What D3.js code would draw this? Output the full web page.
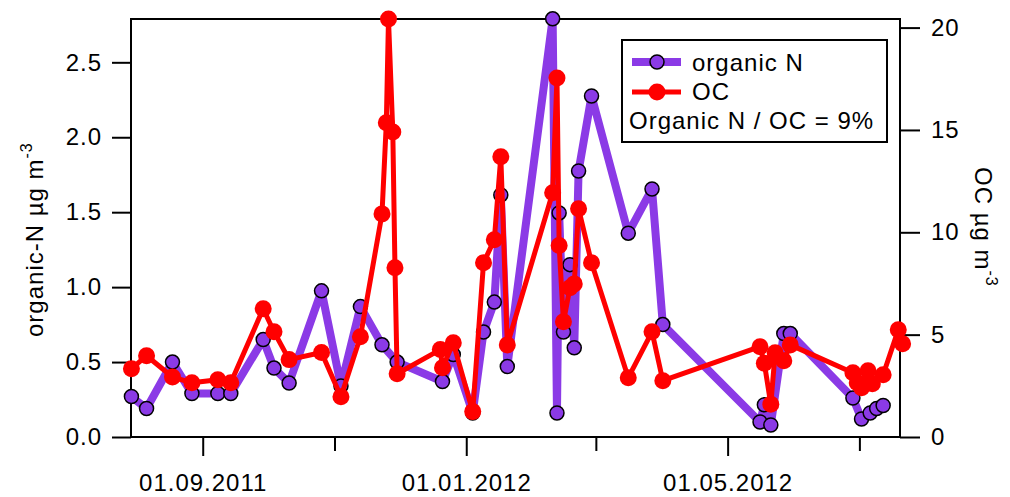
<!DOCTYPE html>
<html>
<head>
<meta charset="utf-8">
<script src="https://cdn.jsdelivr.net/npm/d3@7"></script>
<style>
  body { margin: 0; background: #fff; }
  text { font-family: "Liberation Sans", Arial, sans-serif; }
</style>
</head>
<body>
<div id="chart"></div>
<script>
// sample dates and values
const nDates = ["2011-07-30","2011-08-06","2011-08-18","2011-08-27","2011-09-08","2011-09-14",
  "2011-09-29","2011-10-04","2011-10-11","2011-10-26","2011-11-04","2011-11-13",
  "2011-11-23","2011-11-30","2011-12-21","2011-12-26","2012-01-04","2012-01-09",
  "2012-01-14","2012-01-17","2012-01-20","2012-02-10","2012-02-12","2012-02-13",
  "2012-02-15","2012-02-18","2012-02-20","2012-02-22","2012-02-28","2012-03-16",
  "2012-03-27","2012-04-01","2012-05-16","2012-05-18","2012-05-21","2012-05-27",
  "2012-05-30","2012-06-28","2012-07-02","2012-07-06","2012-07-09","2012-07-12"];
const nValues = [0.27,0.19,0.50,0.29,0.29,0.29,
  0.65,0.46,0.36,0.975,0.34,0.87,
  0.615,0.50,0.37,0.55,0.16,0.70,
  0.90,1.615,0.47,2.79,0.16,1.495,
  0.70,1.15,0.595,1.775,2.275,1.36,
  1.655,0.75,0.10,0.215,0.08,0.69,
  0.69,0.26,0.12,0.16,0.19,0.21];

const ocDates = ["2011-07-30","2011-08-06","2011-08-18","2011-08-27","2011-09-08","2011-09-14",
  "2011-09-29","2011-10-04","2011-10-11","2011-10-26","2011-11-04","2011-11-13",
  "2011-11-23","2011-11-25","2011-11-26","2011-11-28","2011-11-29","2011-11-30",
  "2011-12-20","2011-12-21","2011-12-26","2012-01-04","2012-01-09","2012-01-14",
  "2012-01-17","2012-01-20","2012-02-10","2012-02-12","2012-02-13","2012-02-15",
  "2012-02-18","2012-02-20","2012-02-22","2012-02-28","2012-03-16","2012-03-27",
  "2012-04-01","2012-05-16","2012-05-18","2012-05-21","2012-05-23","2012-05-27",
  "2012-05-30","2012-06-28","2012-06-30","2012-07-02","2012-07-05","2012-07-07",
  "2012-07-12","2012-07-19","2012-07-21"];
const ocValues = [3.33,3.97,2.93,2.65,2.80,2.65,
  6.26,5.14,3.78,4.13,1.97,4.90,
  10.9,15.35,20.42,14.9,8.27,3.09,
  4.27,3.38,4.60,1.24,8.51,9.64,
  13.69,4.50,11.93,17.54,9.35,5.63,
  7.29,7.48,11.15,8.51,2.90,5.14,
  2.75,4.41,3.60,1.60,4.12,3.73,
  4.50,3.14,2.65,2.41,3.24,2.60,
  3.04,5.24,4.56];

const leftTicks = [0, 0.5, 1.0, 1.5, 2.0, 2.5];
const rightTicks = [0, 5, 10, 15, 20];
const majorDates = ["2011-09-01", "2012-01-01", "2012-05-01"];
const minorDates = ["2011-11-01", "2012-03-01", "2012-07-01"];
const legendLabels = ["organic N", "OC", "Organic N / OC = 9%"];

const purple = "#8b3ae6";
const red = "#ff0000";

const width = 1010, height = 497;
const margin = { top: 19, right: 110, bottom: 60, left: 131 };
const plotW = width - margin.left - margin.right;
const plotH = height - margin.top - margin.bottom;

const parse = d3.utcParse("%Y-%m-%d");

const svg = d3.select("#chart")
    .append("svg")
    .attr("width", width)
    .attr("height", height);

svg.append("rect").attr("width", width).attr("height", height).attr("fill", "#fff");

const graph = svg.append("g")
    .attr("transform", `translate(${margin.left}, ${margin.top})`);

const x = d3.scaleUtc()
    .domain([new Date(Date.UTC(2011, 6, 29, 19, 12)), new Date(Date.UTC(2012, 6, 19, 19, 12))])
    .range([0, plotW]);

const yN = d3.scaleLinear().domain([0, 2.789]).range([plotH, 0]);
const yOC = d3.scaleLinear().domain([0, 20.42]).range([plotH, 0]);

const nData = nDates.map((d, i) => ({ date: parse(d), value: nValues[i] }));
const ocData = ocDates.map((d, i) => ({ date: parse(d), value: ocValues[i] }));

// axes
const styleAxis = g => {
    g.select(".domain").remove();
    g.selectAll("line").attr("stroke", "#000").attr("stroke-width", 2);
    g.selectAll("text")
        .attr("fill", "#000")
        .style("font-size", "24px")
        .style("letter-spacing", "1px")
        .style("font-family", '"Liberation Sans", Arial, sans-serif');
};

graph.append("g")
    .call(d3.axisLeft(yN).tickValues(leftTicks).tickFormat(d3.format(".1f"))
        .tickSize(19).tickPadding(10))
    .call(styleAxis);

graph.append("g")
    .attr("transform", `translate(${plotW}, 0)`)
    .call(d3.axisRight(yOC).tickValues(rightTicks).tickFormat(d3.format("d"))
        .tickSize(20).tickPadding(11))
    .call(styleAxis);

graph.append("g")
    .attr("transform", `translate(0, ${plotH})`)
    .call(d3.axisBottom(x).tickValues(majorDates.map(parse))
        .tickFormat(d3.utcFormat("%d.%m.%Y")).tickSize(19).tickPadding(18))
    .call(styleAxis);

graph.append("g")
    .attr("transform", `translate(0, ${plotH})`)
    .call(d3.axisBottom(x).tickValues(minorDates.map(parse))
        .tickFormat("").tickSize(14))
    .call(styleAxis);

// frame
graph.append("rect")
    .attr("width", plotW)
    .attr("height", plotH)
    .attr("fill", "none")
    .attr("stroke", "#000")
    .attr("stroke-width", 2);

// organic N
graph.append("path")
    .datum(nData)
    .attr("fill", "none")
    .attr("stroke", purple)
    .attr("stroke-width", 8)
    .attr("stroke-linejoin", "round")
    .attr("d", d3.line().x(d => x(d.date)).y(d => yN(d.value)));

graph.selectAll(".n-dot")
    .data(nData)
    .enter()
    .append("circle")
    .attr("class", "n-dot")
    .attr("cx", d => x(d.date))
    .attr("cy", d => yN(d.value))
    .attr("r", 7)
    .attr("fill", purple)
    .attr("stroke", "#000")
    .attr("stroke-width", 1.5);

// OC
graph.append("path")
    .datum(ocData)
    .attr("fill", "none")
    .attr("stroke", red)
    .attr("stroke-width", 5)
    .attr("stroke-linejoin", "round")
    .attr("d", d3.line().x(d => x(d.date)).y(d => yOC(d.value)));

graph.selectAll(".oc-dot")
    .data(ocData)
    .enter()
    .append("circle")
    .attr("class", "oc-dot")
    .attr("cx", d => x(d.date))
    .attr("cy", d => yOC(d.value))
    .attr("r", 8.5)
    .attr("fill", red);

// axis titles
const leftTitle = svg.append("text")
    .attr("transform", "translate(43, 337) rotate(-90)")
    .style("font-size", "24px")
    .style("letter-spacing", "1px");
leftTitle.append("tspan").text("organic-N µg m");
leftTitle.append("tspan").attr("dy", -11).style("font-size", "16px").text("-3");

const rightTitle = svg.append("text")
    .attr("transform", "translate(975, 167) rotate(90)")
    .style("font-size", "24px")
    .style("letter-spacing", "1px");
rightTitle.append("tspan").text("OC µg m");
rightTitle.append("tspan").attr("dy", -11).style("font-size", "16px").text("-3");

// legend
const legend = svg.append("g").attr("transform", "translate(622, 40)");
legend.append("rect")
    .attr("width", 265)
    .attr("height", 102)
    .attr("fill", "#fff")
    .attr("stroke", "#000")
    .attr("stroke-width", 2);

legend.append("line")
    .attr("x1", 10).attr("x2", 59).attr("y1", 22).attr("y2", 22)
    .attr("stroke", purple).attr("stroke-width", 8);
legend.append("circle")
    .attr("cx", 35).attr("cy", 22).attr("r", 7)
    .attr("fill", purple).attr("stroke", "#000").attr("stroke-width", 1.5);

legend.append("line")
    .attr("x1", 10).attr("x2", 59).attr("y1", 52).attr("y2", 52)
    .attr("stroke", red).attr("stroke-width", 5);
legend.append("circle")
    .attr("cx", 35).attr("cy", 52).attr("r", 8.5)
    .attr("fill", red);

legend.selectAll(".legend-text")
    .data(legendLabels)
    .enter()
    .append("text")
    .attr("class", "legend-text")
    .attr("x", (d, i) => i < 2 ? 70 : 7)
    .attr("y", (d, i) => [31, 60, 89][i])
    .style("font-size", "24px")
    .style("letter-spacing", "1px")
    .text(d => d);
</script>
</body>
</html>
